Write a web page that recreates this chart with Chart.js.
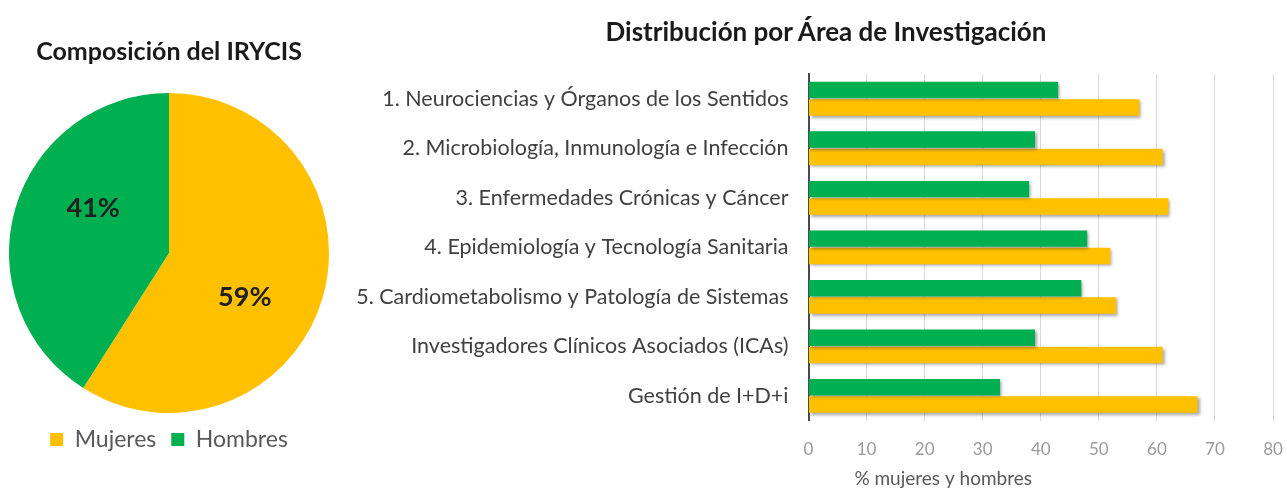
<!DOCTYPE html>
<html>
<head>
<meta charset="utf-8">
<script src="https://cdn.jsdelivr.net/npm/chart.js@4.4.1/dist/chart.umd.min.js"></script>
<style>
  html, body { margin: 0; padding: 0; background: #fff; overflow: hidden; }
  #page { position: relative; width: 1287px; height: 491px; }
  #pieBox { position: absolute; left: 0; top: 0; width: 338px; height: 491px; }
  #barBox { position: absolute; left: 340px; top: 0; width: 976px; height: 491px; }
  #barTitle {
    position: absolute; left: 526px; top: 14px; width: 600px;
    text-align: center; font: bold 26px Lato, sans-serif; color: #1a1a1a;
    line-height: 34px;
  }
</style>
</head>
<body>
<div id="page">
  <div id="pieBox"><canvas id="pie"></canvas></div>
  <div id="barBox"><canvas id="bars"></canvas></div>
  <div id="barTitle">Distribución por Área de Investigación</div>
</div>
<script>
// Composición del IRYCIS
const pieLabelsTxt = ["Mujeres", "Hombres"];
const pieShares = [59, 41];

// Distribución por área
const areas = [
    "1. Neurociencias y Órganos de los Sentidos",
    "2. Microbiología, Inmunología e Infección",
    "3. Enfermedades Crónicas y Cáncer",
    "4. Epidemiología y Tecnología Sanitaria",
    "5. Cardiometabolismo y Patología de Sistemas",
    "Investigadores Clínicos Asociados (ICAs)",
    "Gestión de I+D+i"
];
const hombres = [43, 39, 38, 48, 47, 39, 33];
const mujeres = [57, 61, 62, 52, 53, 61, 67];
const xTicks = [0, 10, 20, 30, 40, 50, 60, 70, 80];

const YELLOW = "#FFC000";
const GREEN = "#00B050";
const FONT = "Lato";

// percentage labels inside the pie slices
const pieValueLabels = {
    id: "pieValueLabels",
    afterDatasetsDraw(chart) {
        const ctx = chart.ctx;
        const meta = chart.getDatasetMeta(0);
        ctx.save();
        ctx.font = `bold 27px ${FONT}`;
        ctx.fillStyle = "#1f1f1f";
        ctx.textAlign = "center";
        ctx.textBaseline = "middle";
        meta.data.forEach((arc, i) => {
            const p = arc.getProps(["x", "y", "startAngle", "endAngle", "outerRadius"], true);
            // Excel's "best fit" sits a bit clockwise of the slice middle
            const mid = (p.startAngle + p.endAngle) / 2 + 0.25;
            const r = p.outerRadius * 0.55;
            ctx.fillText(pieShares[i] + "%", p.x + Math.cos(mid) * r, p.y + Math.sin(mid) * r);
        });
        ctx.restore();
    }
};

new Chart(document.getElementById("pie"), {
    type: "pie",
    data: {
        labels: pieLabelsTxt,
        datasets: [{
            data: pieShares,
            backgroundColor: [YELLOW, GREEN],
            borderWidth: 0
        }]
    },
    options: {
        responsive: true,
        maintainAspectRatio: false,
        animation: false,
        layout: { padding: { bottom: 30 } },
        plugins: {
            title: {
                display: true,
                text: "Composición del IRYCIS",
                color: "#1a1a1a",
                font: { family: FONT, size: 25, weight: "bold" },
                padding: { top: 37, bottom: 26 }
            },
            legend: {
                position: "bottom",
                labels: {
                    color: "#595959",
                    font: { family: FONT, size: 23 },
                    boxWidth: 13,
                    boxHeight: 13,
                    padding: 15
                }
            },
            tooltip: { enabled: false }
        }
    },
    plugins: [pieValueLabels]
});

// shadow under bars + x axis caption
const barExtras = {
    id: "barExtras",
    beforeDatasetsDraw(chart) {
        const ctx = chart.ctx;
        ctx.save();
        ctx.shadowColor = "rgba(0,0,0,0.35)";
        ctx.shadowBlur = 3;
        ctx.shadowOffsetX = 2;
        ctx.shadowOffsetY = 2;
    },
    afterDatasetsDraw(chart) {
        chart.ctx.restore();
    },
    afterDraw(chart) {
        const ctx = chart.ctx;
        const x = chart.scales.x;
        ctx.save();
        ctx.font = `19px ${FONT}`;
        ctx.fillStyle = "#595959";
        ctx.textAlign = "center";
        ctx.textBaseline = "middle";
        ctx.fillText("% mujeres y hombres", x.getPixelForValue(23.2), 479);
        ctx.restore();
    }
};

new Chart(document.getElementById("bars"), {
    type: "bar",
    data: {
        labels: areas,
        datasets: [
            { label: "Hombres", data: hombres, backgroundColor: GREEN },
            { label: "Mujeres", data: mujeres, backgroundColor: YELLOW }
        ]
    },
    options: {
        indexAxis: "y",
        responsive: true,
        maintainAspectRatio: false,
        animation: false,
        categoryPercentage: 0.7,
        barPercentage: 0.95,
        layout: { padding: { top: 74, left: 4, right: 43, bottom: 12 } },
        plugins: {
            legend: { display: false },
            tooltip: { enabled: false }
        },
        scales: {
            x: {
                min: 0,
                max: 80,
                afterBuildTicks(scale) {
                    scale.ticks = xTicks.map(v => ({ value: v }));
                },
                grid: { color: "#d9d9d9", drawTicks: false },
                border: { display: false },
                ticks: {
                    color: "#9a9a9a",
                    font: { family: FONT, size: 17 },
                    padding: 19
                }
            },
            y: {
                grid: { display: false, drawTicks: false },
                border: { color: "#4a4a4a", width: 2 },
                ticks: {
                    color: "#404040",
                    font: { family: FONT, size: 21.5 },
                    padding: 20
                }
            }
        }
    },
    plugins: [barExtras]
});
</script>
</body>
</html>
